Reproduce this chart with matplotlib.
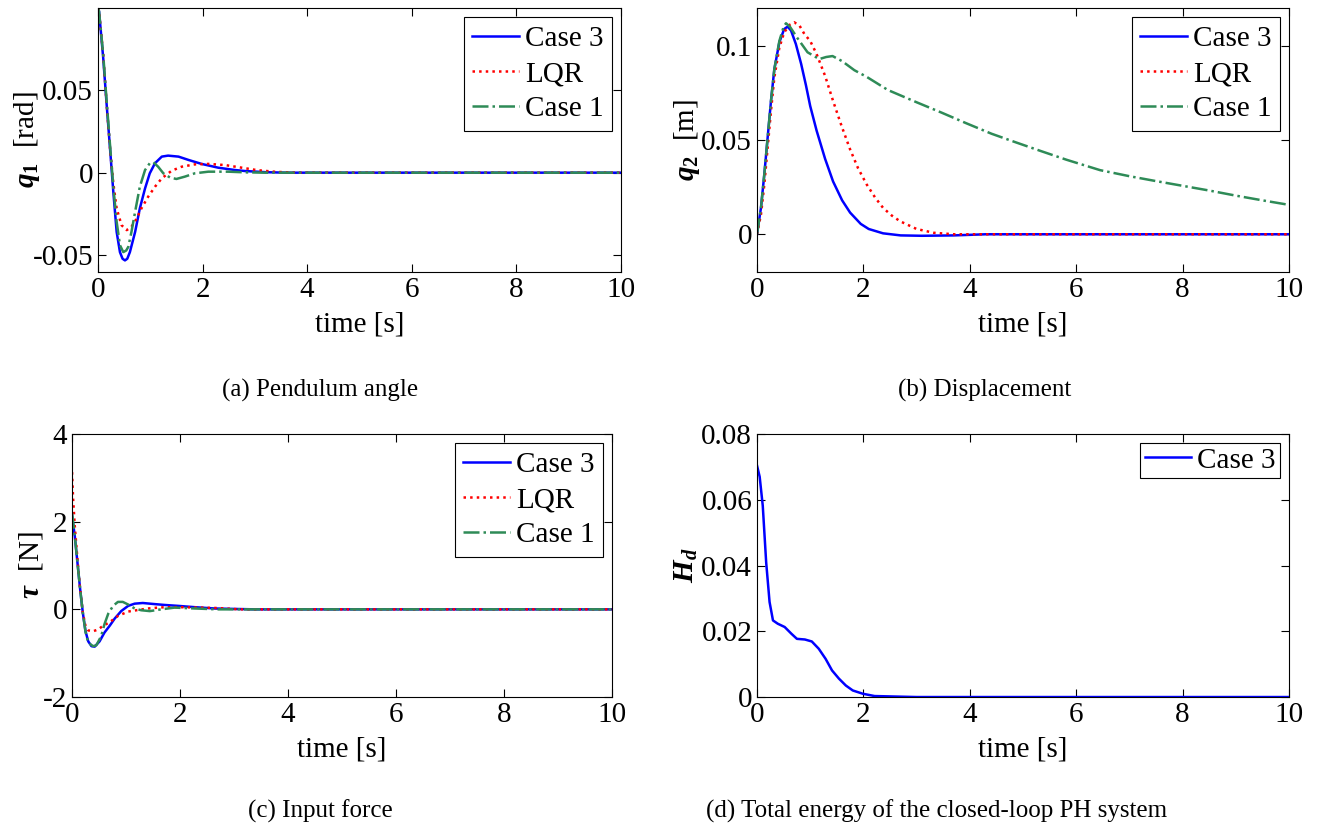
import matplotlib
matplotlib.use('Agg')
import matplotlib.pyplot as plt

plt.rcParams['font.family'] = ['Liberation Serif', 'DejaVu Serif']
plt.rcParams['mathtext.fontset'] = 'custom'
plt.rcParams['mathtext.rm'] = 'Liberation Serif'
plt.rcParams['mathtext.it'] = 'Liberation Serif:italic'
plt.rcParams['mathtext.bf'] = 'Liberation Serif:bold:italic'
plt.rcParams['mathtext.sf'] = 'Liberation Serif:bold'

# (a) pendulum angle q1 [rad]
t_q1_c3 = [0, 0.02, 0.10, 0.166, 0.23, 0.293, 0.357, 0.42, 0.47, 0.516, 0.56, 0.61, 0.71, 0.80, 0.90,
           0.99, 1.09, 1.22, 1.34, 1.54, 1.73, 1.98, 2.30, 2.62, 2.81, 3.2, 3.6, 10.0]
q1_c3 = [0.0995, 0.0975, 0.0693, 0.041, 0.0147, -0.0115, -0.0358, -0.048, -0.0520, -0.0530, -0.0520,
         -0.048, -0.0358, -0.0216, -0.0095, -0.0004, 0.0057, 0.0097, 0.0103, 0.0097, 0.0077, 0.0053,
         0.0030, 0.0016, 0.0010, 0.0003, 0.0, 0.0]
t_q1_lqr = [0, 0.02, 0.10, 0.166, 0.23, 0.29, 0.357, 0.45, 0.55, 0.64, 0.74, 0.83, 0.96, 1.09, 1.22,
            1.41, 1.60, 1.85, 2.11, 2.43, 2.75, 3.05, 3.4, 3.8, 10.0]
q1_lqr = [0.0995, 0.0975, 0.0713, 0.041, 0.0147, -0.0055, -0.0216, -0.0317, -0.0347, -0.0327, -0.0277,
          -0.0216, -0.0145, -0.0085, -0.0034, 0.0012, 0.0036, 0.0050, 0.0053, 0.0046, 0.0030, 0.0015,
          0.0005, 0.0, 0.0]
t_q1_c1 = [0, 0.02, 0.10, 0.166, 0.23, 0.293, 0.357, 0.42, 0.484, 0.54, 0.58, 0.64, 0.71, 0.80, 0.90,
           0.99, 1.06, 1.15, 1.25, 1.38, 1.50, 1.66, 1.85, 2.11, 2.49, 2.81, 3.2, 10.0]
q1_c1 = [0.0995, 0.0975, 0.0713, 0.043, 0.0168, -0.0085, -0.0297, -0.0438, -0.0480, -0.0470, -0.0448,
         -0.0358, -0.0236, -0.0085, 0.0016, 0.0057, 0.0063, 0.0036, -0.0004, -0.0030, -0.0038, -0.0024,
         -0.0004, 0.0006, 0.0006, 0.0002, 0.0, 0.0]

# (b) displacement q2 [m]
t_q2_c3 = [0, 0.075, 0.138, 0.20, 0.263, 0.326, 0.42, 0.51, 0.576, 0.64, 0.73, 0.83, 0.92, 1.0, 1.12,
           1.28, 1.43, 1.6, 1.75, 1.95, 2.1, 2.37, 2.7, 3.1, 3.7, 4.3, 10.0]
q2_c3 = [0, 0.0142, 0.032, 0.0513, 0.0708, 0.0876, 0.1018, 0.1088, 0.1101, 0.1080, 0.1009, 0.0903,
         0.0790, 0.068, 0.055, 0.040, 0.028, 0.018, 0.0115, 0.0055, 0.0028, 0.0005, -0.0006, -0.0008,
         -0.0006, 0.0, 0.0]
t_q2_lqr = [0, 0.075, 0.138, 0.20, 0.263, 0.326, 0.42, 0.51, 0.61, 0.70, 0.80, 0.89, 1.0, 1.12, 1.28,
            1.43, 1.59, 1.75, 1.90, 2.06, 2.22, 2.37, 2.53, 2.69, 3.0, 3.32, 3.7, 10.0]
q2_lqr = [0, 0.0106, 0.0265, 0.046, 0.0655, 0.0832, 0.099, 0.107, 0.111, 0.1124, 0.1106, 0.1062, 0.1025,
          0.0956, 0.084, 0.0707, 0.0574, 0.0450, 0.0350, 0.0265, 0.0195, 0.014, 0.0100, 0.0069, 0.0028,
          0.0008, 0.0, 0.0]
t_q2_c1 = [0, 0.075, 0.138, 0.20, 0.263, 0.326, 0.42, 0.50, 0.545, 0.62, 0.76, 0.95, 1.17, 1.30, 1.42,
           1.60, 1.83, 2.06, 2.46, 3.0, 3.47, 3.94, 4.41, 4.88, 5.35, 5.82, 6.45, 7.0, 7.5, 8.0, 8.5,
           9.0, 9.5, 10.0]
q2_c1 = [0, 0.0142, 0.032, 0.0513, 0.0708, 0.0876, 0.1025, 0.1100, 0.1119, 0.1100, 0.1040, 0.0965,
         0.0929, 0.0940, 0.0945, 0.0918, 0.0870, 0.0835, 0.0765, 0.0700, 0.0645, 0.0588, 0.0533, 0.0486,
         0.0440, 0.0395, 0.0340, 0.0308, 0.0282, 0.0257, 0.0232, 0.0205, 0.0180, 0.0156]

# (c) input force tau [N]
t_tau_c3 = [0, 0.05, 0.10, 0.15, 0.20, 0.25, 0.30, 0.36, 0.42, 0.51, 0.60, 0.70, 0.79, 0.91, 1.04,
            1.16, 1.31, 1.53, 1.72, 1.96, 2.27, 2.64, 3.0, 3.4, 10.0]
tau_c3 = [2.14, 1.68, 1.07, 0.46, -0.08, -0.50, -0.73, -0.84, -0.85, -0.73, -0.53, -0.37, -0.21, -0.04,
          0.08, 0.13, 0.145, 0.12, 0.10, 0.08, 0.05, 0.02, 0.01, 0.0, 0.0]
t_tau_lqr = [0, 0.02, 0.05, 0.10, 0.15, 0.20, 0.25, 0.30, 0.39, 0.48, 0.57, 0.70, 0.85, 1.04, 1.22,
             1.41, 1.65, 1.96, 2.40, 2.70, 3.1, 10.0]
tau_lqr = [3.13, 2.52, 1.91, 1.15, 0.46, -0.08, -0.38, -0.48, -0.50, -0.46, -0.38, -0.29, -0.15, -0.05,
           -0.015, 0.02, 0.045, 0.05, 0.04, 0.03, 0.0, 0.0]
t_tau_c1 = [0, 0.05, 0.10, 0.15, 0.20, 0.25, 0.30, 0.39, 0.45, 0.54, 0.60, 0.67, 0.76, 0.85, 0.94,
            1.04, 1.16, 1.28, 1.44, 1.65, 1.90, 2.27, 2.7, 10.0]
tau_c1 = [2.20, 1.68, 1.07, 0.46, -0.08, -0.52, -0.76, -0.84, -0.82, -0.61, -0.34, -0.10, 0.08, 0.17,
          0.17, 0.11, 0.02, -0.02, -0.04, 0.0, 0.04, 0.02, 0.0, 0.0]

# (d) total energy Hd
t_hd = [0, 0.05, 0.108, 0.172, 0.236, 0.30, 0.39, 0.52, 0.65, 0.75, 0.90, 1.03, 1.16, 1.29, 1.41,
        1.54, 1.67, 1.80, 1.99, 2.21, 3.0, 10.0]
hd = [0.0704, 0.067, 0.0582, 0.041, 0.0289, 0.0233, 0.0223, 0.0213, 0.0192, 0.0177, 0.0175, 0.0169,
      0.0147, 0.0116, 0.0081, 0.0056, 0.0035, 0.002, 0.001, 0.0003, 0.0, 0.0]

BLUE = '#0000ff'
RED = '#ff0000'
GREEN = '#2e8b57'
FS = 21

fig = plt.figure(figsize=(13.17, 8.30), dpi=100)
ax_a = fig.add_axes([0.0744, 0.6723, 0.3971, 0.3181])
ax_b = fig.add_axes([0.5748, 0.6723, 0.4039, 0.3181])
ax_c = fig.add_axes([0.0547, 0.1602, 0.4100, 0.3169])
ax_d = fig.add_axes([0.5748, 0.1602, 0.4039, 0.3169])


def style(ax, ylabel, ylab_x):
    ax.set_xlim(0, 10)
    ax.set_xticks([0, 2, 4, 6, 8, 10])
    ax.tick_params(direction='in', top=True, right=True, labelsize=FS, length=6, width=0.8)
    ax.set_xlabel('time [s]', fontsize=FS, labelpad=6)
    ax.set_ylabel(ylabel, fontsize=FS)
    ax.yaxis.set_label_coords(ylab_x, 0.5)
    for s in ax.spines.values():
        s.set_linewidth(0.8)


def legend(ax, pad=0.3):
    leg = ax.legend(loc='upper right', fontsize=21, borderaxespad=0.3, fancybox=False,
                    edgecolor='black', framealpha=1, handlelength=1.6, handletextpad=0.2,
                    borderpad=pad, labelspacing=0.3)
    leg.get_frame().set_linewidth(0.8)


three = [('Case 3', BLUE, '-'), ('LQR', RED, ':'), ('Case 1', GREEN, '-.')]

for (lab, col, ls), (tt, yy) in zip(three, [(t_q1_c3, q1_c3), (t_q1_lqr, q1_lqr), (t_q1_c1, q1_c1)]):
    ax_a.plot(tt, yy, color=col, linestyle=ls, linewidth=1.8, label=lab)
ax_a.set_ylim(-0.06, 0.0995)
ax_a.set_yticks([-0.05, 0, 0.05])
ax_a.set_yticklabels(['-0.05', '0', '0.05'])
style(ax_a, r'$\mathbf{q}_{\mathsf{1}}$  [rad]', -0.107)
legend(ax_a)

for (lab, col, ls), (tt, yy) in zip(three, [(t_q2_c3, q2_c3), (t_q2_lqr, q2_lqr), (t_q2_c1, q2_c1)]):
    ax_b.plot(tt, yy, color=col, linestyle=ls, linewidth=1.8, label=lab)
ax_b.set_ylim(-0.02, 0.12)
ax_b.set_yticks([0, 0.05, 0.1])
ax_b.set_yticklabels(['0', '0.05', '0.1'])
style(ax_b, r'$\mathbf{q}_{\mathsf{2}}$  [m]', -0.103)
legend(ax_b)

for (lab, col, ls), (tt, yy) in zip(three, [(t_tau_c3, tau_c3), (t_tau_lqr, tau_lqr), (t_tau_c1, tau_c1)]):
    ax_c.plot(tt, yy, color=col, linestyle=ls, linewidth=1.8, label=lab)
ax_c.set_ylim(-2, 4)
ax_c.set_yticks([-2, 0, 2, 4])
ax_c.set_yticklabels(['-2', '0', '2', '4'])
style(ax_c, r'$\mathbf{\tau}$  [N]', -0.05)
legend(ax_c)

ax_d.plot(t_hd, hd, color=BLUE, linewidth=1.8, label='Case 3')
ax_d.set_ylim(0, 0.08)
ax_d.set_yticks([0, 0.02, 0.04, 0.06, 0.08])
ax_d.set_yticklabels(['0', '0.02', '0.04', '0.06', '0.08'])
style(ax_d, r'$\mathbf{H}_{\mathbf{d}}$', -0.107)
legend(ax_d, pad=0.15)

fig.text(0.243, 0.530, '(a) Pendulum angle', ha='center', va='center', fontsize=18)
fig.text(0.748, 0.530, '(b) Displacement', ha='center', va='center', fontsize=18)
fig.text(0.243, 0.022, '(c) Input force', ha='center', va='center', fontsize=18)
fig.text(0.711, 0.022, '(d) Total energy of the closed-loop PH system', ha='center', va='center',
         fontsize=18)

fig.savefig('out.png', dpi=100)
